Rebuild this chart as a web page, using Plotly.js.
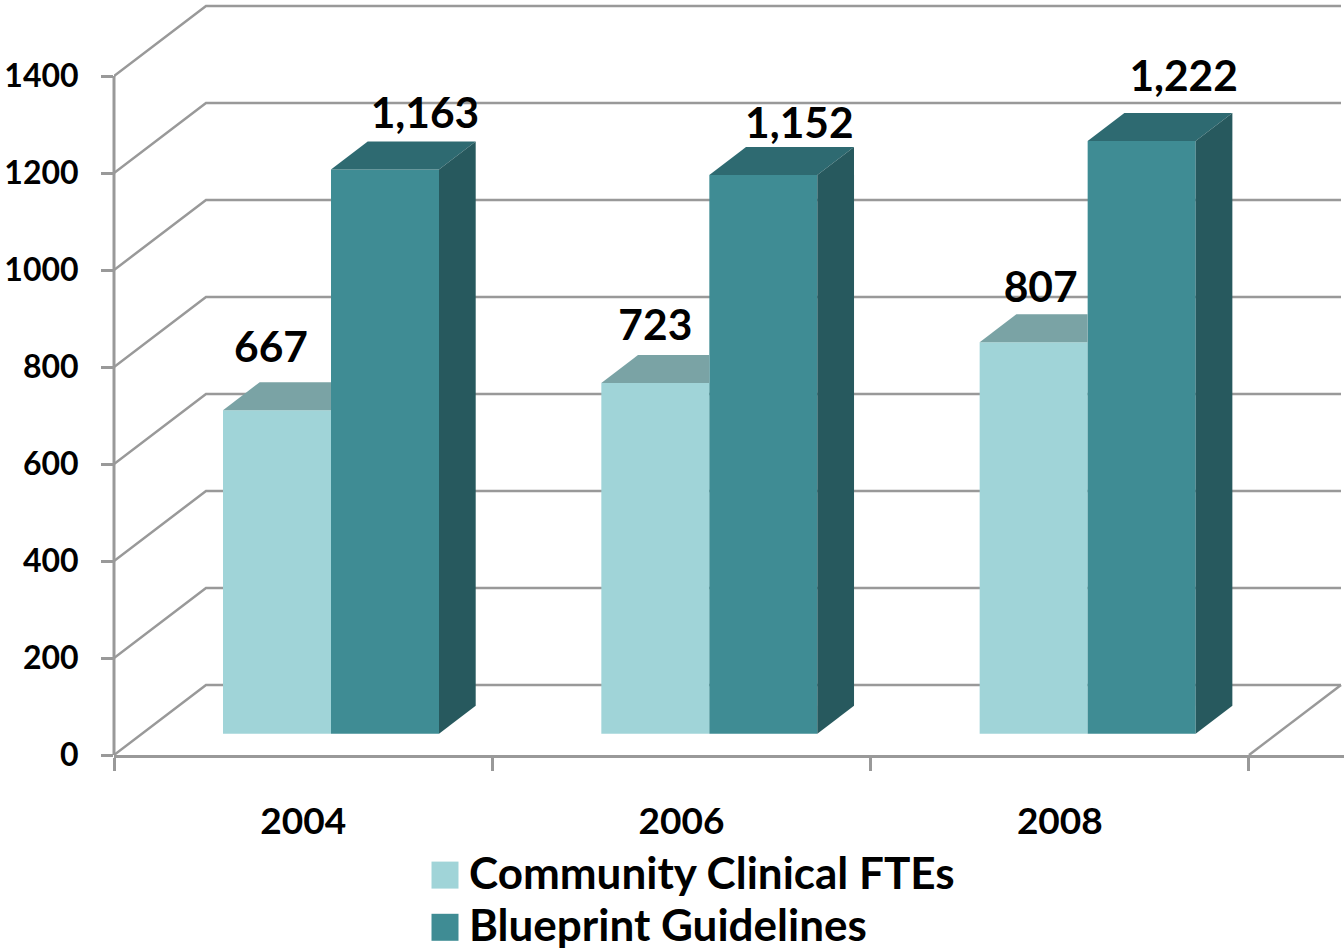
<!DOCTYPE html>
<html>
<head>
<meta charset="utf-8">
<script src="https://cdn.plot.ly/plotly-3.0.1.min.js"></script>
<style>html,body{margin:0;padding:0;background:#fff}#c{width:1344px;height:950px}</style>
</head>
<body>
<div id="c"></div>
<script>
var years = ['2004', '2006', '2008'];
var communityFTEs = [667, 723, 807];
var blueprintGuidelines = [1163, 1152, 1222];
var yTicks = [0, 200, 400, 600, 800, 1000, 1200, 1400];
var seriesNames = ['Community Clinical FTEs', 'Blueprint Guidelines'];

var FONT = 'Lato, Carlito, Calibri, sans-serif';
var INK = '#000000', GRID = '#999999';
var LIGHT = '#A0D4D8', LIGHT_TOP = '#7AA3A5', DARK = '#3F8C94', DARK_TOP = '#2E6A71', DARK_SIDE = '#27595E';

var pxX = 378.33, pxY = 0.485;       // pixels per category / per value
var wallDx = 92 / pxX, wallDy = 70 / pxY;
var barLeft = 109 / pxX, barW = 108 / pxX;
var barBase = 44;
var depthDx = 36.7 / pxX, depthDy = 28 / pxY;

// label nudges, in pixels, relative to the front-top of each bar
var lightLabelDx = [-6, 0, 7], lightLabelUp = [59, 54, 51];
var darkLabelDx = [40, 36, 42], darkLabelUp = [52, 48, 61];

var idx = years.map(function (_, i) { return i; });

var traces = [
  {type: 'bar', name: seriesNames[0], x: idx, y: communityFTEs, base: barBase, offset: barLeft, width: barW,
   marker: {color: LIGHT, line: {width: 0}}},
  {type: 'bar', name: seriesNames[1], x: idx, y: blueprintGuidelines, base: barBase, offset: barLeft + barW, width: barW,
   marker: {color: DARK, line: {width: 0}}}
];

function poly(xs, ys, color) {
  traces.push({type: 'scatter', mode: 'lines', x: xs.concat(xs[0]), y: ys.concat(ys[0]), fill: 'toself',
    fillcolor: color, line: {width: 0, color: color}, showlegend: false, hoverinfo: 'skip'});
}

idx.forEach(function (i) {
  // light bar top, the part the dark bar does not hide
  var l = i + barLeft, m = l + barW, r = m + barW;
  var t1 = barBase + communityFTEs[i];
  poly([l, m, m, l + depthDx], [t1, t1, t1 + depthDy, t1 + depthDy], LIGHT_TOP);
  // dark bar top and side
  var t2 = barBase + blueprintGuidelines[i];
  poly([m, r, r + depthDx, m + depthDx], [t2, t2, t2 + depthDy, t2 + depthDy], DARK_TOP);
  poly([r, r + depthDx, r + depthDx, r], [barBase, barBase + depthDy, t2 + depthDy, t2], DARK_SIDE);
});

function labelTrace(vals, dx, up, left) {
  return {type: 'scatter', mode: 'text', showlegend: false, hoverinfo: 'skip',
    x: vals.map(function (_, i) { return i + left + barW / 2 + dx[i] / pxX; }),
    y: vals.map(function (v, i) { return barBase + v + up[i] / pxY; }),
    text: vals.map(function (v) { return v.toLocaleString('en-US'); }),
    textposition: 'middle center',
    textfont: {family: FONT, size: 42.5, color: INK, weight: 700}};
}
traces.push(labelTrace(communityFTEs, lightLabelDx, lightLabelUp, barLeft));
traces.push(labelTrace(blueprintGuidelines, darkLabelDx, darkLabelUp, barLeft + barW));

var n = years.length;
var shapes = [];
yTicks.forEach(function (v) {
  shapes.push({type: 'path', layer: 'below', xref: 'x', yref: 'y',
    path: 'M0,' + v + ' L' + wallDx + ',' + (v + wallDy) + ' L' + (n + wallDx) + ',' + (v + wallDy),
    line: {color: GRID, width: 2.5}});
});
shapes.push({type: 'line', layer: 'below', xref: 'x', yref: 'y', x0: n, y0: 0, x1: n + wallDx, y1: wallDy,
  line: {color: GRID, width: 2.5}});
shapes.push({type: 'line', layer: 'below', xref: 'paper', yref: 'y', x0: 0, x1: 0, y0: 0, y1: 1400,
  line: {color: GRID, width: 3}});

var layout = {
  width: 1344, height: 950,
  margin: {l: 114, r: 0, t: 0, b: 195, pad: 0, autoexpand: false},
  paper_bgcolor: '#ffffff', plot_bgcolor: '#ffffff',
  hovermode: false, barmode: 'overlay',
  font: {family: FONT, color: INK},
  shapes: shapes,
  xaxis: {
    type: 'linear', range: [0, 1230 / pxX], fixedrange: true, showgrid: false, zeroline: false,
    showline: true, linecolor: GRID, linewidth: 3,
    tickmode: 'array', tickvals: idx.map(function (i) { return i + 0.5; }), ticktext: years,
    ticks: '', ticklabelstandoff: 32,
    tickfont: {family: FONT, size: 37, color: INK, weight: 700},
    minor: {tickmode: 'array', tickvals: idx.concat(n), ticks: 'outside', ticklen: 13, tickwidth: 3, tickcolor: GRID, showgrid: false}
  },
  yaxis: {
    range: [0, 755 / pxY], fixedrange: true, showgrid: false, zeroline: false, showline: false,
    tickmode: 'array', tickvals: yTicks, ticktext: yTicks.map(String),
    ticks: 'outside', ticklen: 12, tickwidth: 3, tickcolor: GRID, ticklabelstandoff: 16,
    tickfont: {family: FONT, size: 32, color: INK, weight: 700}
  },
  showlegend: true,
  legend: {
    x: (429 - 114) / 1230, xanchor: 'left', y: -0.1086, yanchor: 'top',
    orientation: 'v', traceorder: 'normal', itemwidth: 30, borderwidth: 0, bgcolor: 'rgba(0,0,0,0)',
    font: {family: FONT, size: 44, color: INK, weight: 700}
  }
};

Plotly.newPlot('c', traces, layout, {displayModeBar: false, responsive: false}).then(function () {
  document.querySelectorAll('#c .legend .legendpoints path').forEach(function (p) {
    p.setAttribute('d', 'M9.5,16.5H-17.5V-10.5H9.5Z');
  });
  // tighten the legend rows to the reference's line pitch
  var rows = document.querySelectorAll('#c .legend .traces');
  rows.forEach(function (g, k) {
    var m = /translate\(([^,]+),\s*([^)]+)\)/.exec(g.getAttribute('transform') || '');
    if (m && k > 0) g.setAttribute('transform', 'translate(' + m[1] + ',' + (parseFloat(m[2]) - k * 8) + ')');
  });
});
</script>
</body>
</html>
